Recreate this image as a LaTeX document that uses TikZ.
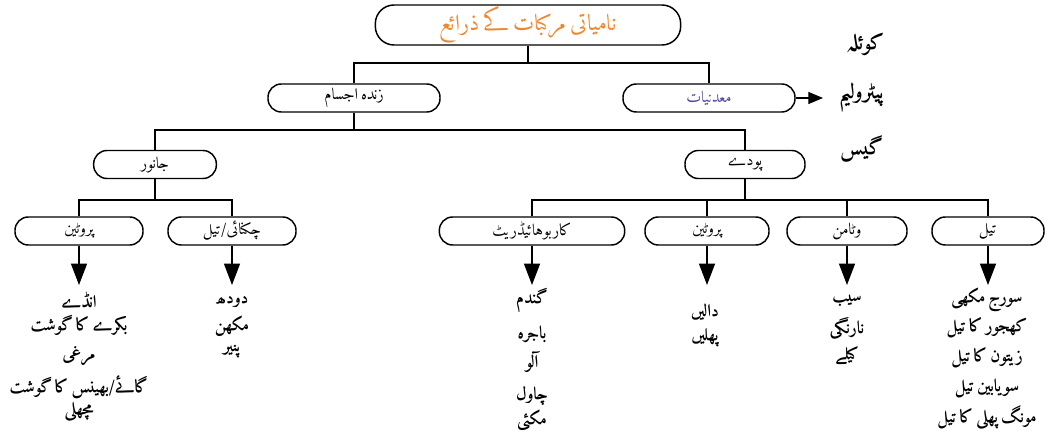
\documentclass[tikz,border=0pt]{standalone}
\usepackage{fontspec}
\usetikzlibrary{arrows.meta}
\TeXXeTstate=1
% Urdu text: a naskh face with the Urdu letters, DejaVu Sans otherwise
\IfFontExistsTF{Amiri-Regular.ttf}
  {\newfontfamily\urfont[Script=Arabic, WordSpace=0.6,
     BoldFont=Amiri-Bold.ttf]{Amiri-Regular.ttf}}
  {\IfFontExistsTF{amiri-regular.ttf}
    {\newfontfamily\urfont[Script=Arabic, WordSpace=0.6,
       BoldFont=amiri-bold.ttf]{amiri-regular.ttf}}
    {\newfontfamily\urfont[Script=Arabic]{DejaVu Sans}}}
\newcommand\ur[1]{{\urfont\beginR #1\endR}}
\definecolor{rootorange}{HTML}{F2852A}
\definecolor{minpurple}{HTML}{5A4A9E}

\begin{document}
\begin{tikzpicture}[x=0.75pt,y=-0.75pt,
  pill/.style={draw, line width=1.1pt, rounded corners=10pt, minimum height=21pt,
    inner sep=0pt, font=\fontsize{12}{13}\selectfont},
  link/.style={line width=0.9pt},
  arr/.style={line width=0.9pt, -{Triangle[length=16pt,width=12pt]}},
  item/.style={font=\bfseries\fontsize{13}{14}\selectfont, inner sep=0pt},
  mineral/.style={font=\bfseries\fontsize{16}{17}\selectfont, inner sep=0pt},
]
\useasboundingbox (0,0) rectangle (1049,441);

% top of the tree
\node[pill, minimum width=229pt, minimum height=30pt, rounded corners=14pt,
  font=\fontsize{17}{18}\selectfont, text=rootorange] (root) at (528,25)
  {\ur{نامیاتی مرکبات کے ذرائع}};

% second level
\node[pill, minimum width=129pt] (zinda) at (354,98) {\ur{زندہ اجسام}};
\node[pill, minimum width=129pt, text=minpurple] (madan) at (709,98) {\ur{معدنیات}};

% minerals
\node[mineral] (koela) at (866,44) {\ur{کوئلہ}};
\node[mineral] (petrol) at (862,97) {\ur{پیٹرولیم}};
\node[mineral] (gas) at (862,149) {\ur{گیس}};
\coordinate (madanTip) at (823,98);
\draw[line width=0.9pt, -{Triangle[length=11pt,width=9pt]}] (madan.east) -- (madanTip);

% third level
\node[pill, minimum width=92pt] (janwar) at (155,164.5) {\ur{جانور}};
\node[pill, minimum width=90pt] (podey) at (745,164.5) {\ur{پودے}};

% fourth level: animals
\node[pill, minimum width=96pt] (protA) at (79,231) {\ur{پروٹین}};
\node[pill, minimum width=96pt] (fat) at (232,231) {\ur{چکنائی/تیل}};

% fourth level: plants
\node[pill, minimum width=139pt] (carb) at (532,231) {\ur{کاربوہائیڈریٹ}};
\node[pill, minimum width=93pt] (protP) at (707,231) {\ur{پروٹین}};
\node[pill, minimum width=90pt] (vit) at (847,231) {\ur{وٹامن}};
\node[pill, minimum width=84pt] (oil) at (988,231) {\ur{تیل}};

% connectors between levels
\coordinate (j1) at (528,63);
\draw[link] (root.south) -- (j1);
\draw[link] (zinda.north) |- (j1) -| (madan.north);

\coordinate (j2) at (354,130);
\draw[link] (zinda.south) -- (j2);
\draw[link] (janwar.north) |- (j2) -| (podey.north);

\coordinate (j3) at (155,200);
\draw[link] (janwar.south) -- (j3);
\draw[link] (protA.north) |- (j3) -| (fat.north);

\coordinate (j4) at (745,200);
\draw[link] (podey.south) -- (j4);
\draw[link] (carb.north) |- (j4) -| (oil.north);
\draw[link] (protP.north) -- (protP.north |- j4);
\draw[link] (vit.north) -- (vit.north |- j4);

% arrows down to the examples
\coordinate (tA) at (79,285);
\coordinate (tB) at (232,285);
\coordinate (tC) at (532,285);
\coordinate (tD) at (707,285);
\coordinate (tE) at (847,285);
\coordinate (tF) at (988,285);
\draw[arr] (protA.south) -- (tA);
\draw[arr] (fat.south) -- (tB);
\draw[arr] (carb.south) -- (tC);
\draw[arr] (protP.south) -- (tD);
\draw[arr] (vit.south) -- (tE);
\draw[arr] (oil.south) -- (tF);

% examples: animal protein
\node[item] (a1) at (79,300) {\ur{انڈے}};
\node[item] (a2) at (79,325) {\ur{بکرے کا گوشت}};
\node[item] (a3) at (79,356) {\ur{مرغی}};
\node[item] (a4) at (79,387) {\ur{گائے/بھینس کا گوشت}};
\node[item] (a5) at (79,412) {\ur{مچھلی}};

% examples: fat / oil
\node[item] (b1) at (232,302) {\ur{دودھ}};
\node[item] (b2) at (232,326) {\ur{مکھن}};
\node[item] (b3) at (232,352) {\ur{پنیر}};

% examples: carbohydrate
\node[item] (c1) at (532,300) {\ur{گندم}};
\node[item] (c2) at (532,334) {\ur{باجرہ}};
\node[item] (c3) at (532,362) {\ur{آلو}};
\node[item] (c4) at (532,396) {\ur{چاول}};
\node[item] (c5) at (532,420) {\ur{مکئی}};

% examples: plant protein
\node[item] (d1) at (705,312) {\ur{دالیں}};
\node[item] (d2) at (705,338) {\ur{پھلیں}};

% examples: vitamin
\node[item] (e1) at (847,301) {\ur{سیب}};
\node[item] (e2) at (847,328) {\ur{نارنگی}};
\node[item] (e3) at (847,356) {\ur{کیلے}};

% examples: plant oil
\node[item] (f1) at (987,300) {\ur{سورج مکھی}};
\node[item] (f2) at (987,328) {\ur{کھجور کا تیل}};
\node[item] (f3) at (987,358) {\ur{زیتون کا تیل}};
\node[item] (f4) at (987,388) {\ur{سویابین تیل}};
\node[item] (f5) at (987,418) {\ur{مونگ پھلی کا تیل}};
\end{tikzpicture}
\end{document}
